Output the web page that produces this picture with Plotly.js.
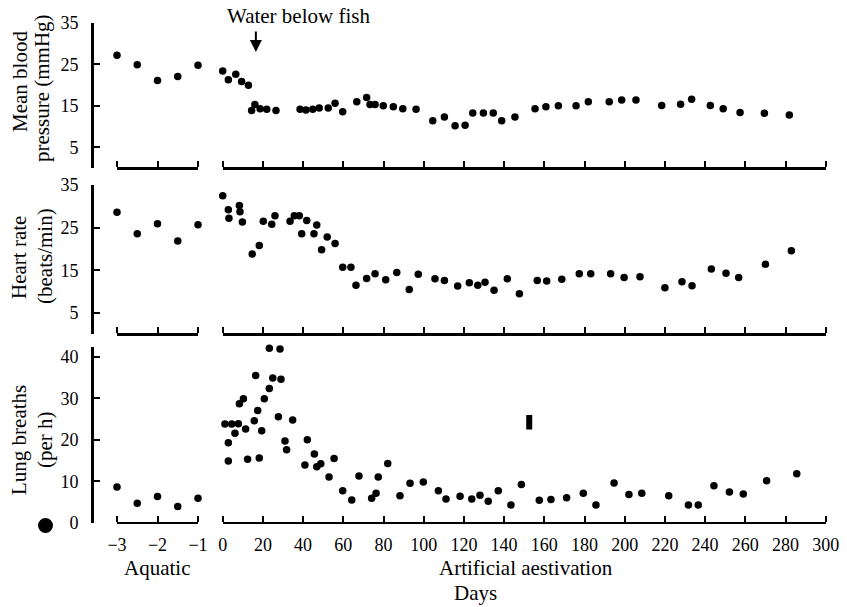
<!DOCTYPE html>
<html>
<head>
<meta charset="utf-8">
<script src="https://cdn.plot.ly/plotly-3.0.1.min.js"></script>
<style>html,body{margin:0;padding:0;background:#fff}</style>
</head>
<body>
<div id="chart" style="width:847px;height:607px"></div>
<script>
// Aquatic phase (days before aestivation)
const aqDays = [-3, -2.5, -2, -1.5, -1];
const bpAq = [27.2, 24.9, 21.1, 22.1, 24.8];
const hrAq = [28.6, 23.6, 25.9, 21.9, 25.7];
const lbAq = [8.6, 4.7, 6.3, 3.9, 5.9];

// Artificial aestivation: mean blood pressure (mmHg)
const bpDays = [0, 2.8, 6.5, 9.4, 12.8, 14.4, 16, 18.6, 21.9, 26.5, 38.5, 41.4, 44.8, 48, 52.5, 55.9, 59.7, 66.7, 71.6, 73.3, 75.8, 79.9, 84.9, 89.6, 96.2, 104.5, 110.3, 115.6, 120.6, 124.4, 129.7, 134.6, 138.8, 145.4, 155.4, 160.8, 167, 175.8, 181.9, 192.3, 198.5, 205.6, 218.4, 227.8, 233.3, 242.6, 249, 257.4, 269.5, 281.9];
const bpVals = [23.4, 21.3, 22.6, 20.9, 20, 13.9, 15.3, 14.3, 14.2, 13.9, 14.2, 14, 14.2, 14.5, 14.5, 15.6, 13.6, 16, 17, 15.3, 15.3, 15, 14.8, 14.3, 14.2, 11.4, 12.3, 10.2, 10.3, 13.3, 13.3, 13.3, 11.4, 12.3, 14.3, 14.8, 15, 15, 16, 16, 16.4, 16.4, 15.1, 15.4, 16.6, 15.1, 14.3, 13.4, 13.2, 12.8];

// Heart rate (beats/min)
const hrDays = [0, 2.8, 3.1, 8.3, 8.6, 9.8, 14.7, 18.2, 20.2, 24.4, 26, 33.5, 35.6, 38.1, 39.3, 41.8, 45.4, 46.8, 49.2, 52, 55.9, 59.7, 63.8, 66.3, 71.6, 75.8, 81.1, 86.6, 92.8, 97.3, 105.6, 110.3, 116.9, 122.7, 126.9, 130.5, 135, 141.6, 147.6, 156.5, 161.2, 168.7, 177.4, 183.1, 193, 199.7, 207.6, 220, 228.5, 233.5, 243.1, 250.4, 256.7, 270, 282.9];
const hrVals = [32.5, 29.2, 27.2, 30.2, 28.7, 26.3, 18.8, 20.8, 26.5, 25.8, 27.8, 26.5, 27.8, 27.8, 23.6, 26.7, 23.6, 25.6, 19.8, 22.8, 21.3, 15.7, 15.7, 11.5, 13.1, 14.2, 12.8, 14.5, 10.5, 14.1, 13, 12.6, 11.3, 12.1, 11.5, 12.2, 10.3, 13, 9.5, 12.6, 12.5, 12.9, 14.2, 14.2, 14.2, 13.3, 13.5, 10.9, 12.3, 11.4, 15.3, 14.3, 13.3, 16.4, 19.6];

// Lung breaths (per h)
const lbDays = [1.1, 2.8, 2.8, 4.5, 6.1, 7.8, 8.3, 10.3, 11.4, 12.4, 15.7, 16.4, 17.4, 18.2, 19.4, 20.7, 23.2, 23.2, 24.9, 27.7, 28.5, 29, 31, 31.8, 34.8, 40.9, 42.1, 45.6, 46.8, 48.8, 52.9, 55.4, 59.7, 64.2, 67.8, 74.1, 76.3, 77.4, 82.1, 88.2, 93.2, 99.8, 107.3, 111.1, 118.1, 123.9, 128, 132.1, 137.1, 143.4, 148.6, 157.5, 163.3, 171.1, 179.4, 185.7, 194.7, 202.1, 208.5, 221.9, 231.7, 236.6, 244.4, 252.1, 259, 270.6, 285.6];
const lbVals = [23.8, 19.3, 14.9, 23.8, 21.6, 23.9, 28.7, 29.9, 22.6, 15.3, 24.6, 35.5, 27.1, 15.6, 22.2, 29.9, 32.4, 42.1, 34.9, 25.6, 41.9, 34.6, 19.7, 17.6, 24.8, 13.9, 20, 16.6, 13.5, 14.2, 11, 15.5, 7.7, 5.5, 11.3, 5.9, 7.1, 11, 14.3, 6.5, 9.5, 9.8, 7.7, 5.7, 6.4, 5.7, 6.6, 5.2, 7.7, 4.3, 9.2, 5.4, 5.6, 6, 7.1, 4.3, 9.6, 6.8, 7.1, 6.5, 4.3, 4.3, 8.9, 7.4, 6.9, 10.1, 11.8];

const aqTicks = [-3, -2, -1];
const aeTicks = [0, 20, 40, 60, 80, 100, 120, 140, 160, 180, 200, 220, 240, 260, 280, 300];
const bpTicks = [0, 5, 15, 25, 35];
const bpTickText = ['', '5', '15', '25', '35'];
const hrTicks = [0, 5, 15, 25, 35];
const hrTickText = ['', '5', '15', '25', '35'];
const lbTicks = [0, 10, 20, 30, 40];

const W = 847, H = 607;
const px = v => v / W;
const py = v => 1 - v / H;
const FONT = 'Liberation Serif, Times New Roman, serif';

function pts(x, y, xa, ya) {
  return {x: x, y: y, xaxis: xa, yaxis: ya, type: 'scatter', mode: 'markers',
    marker: {color: '#000', size: 7.5}, cliponaxis: false, showlegend: false, hoverinfo: 'x+y'};
}
function blank(xa, ya) {
  return {x: [], y: [], xaxis: xa, yaxis: ya, type: 'scatter', mode: 'markers', showlegend: false, hoverinfo: 'skip'};
}

const data = [
  pts(aqDays, bpAq, 'x', 'y'), pts(bpDays, bpVals, 'x2', 'y'),
  pts(aqDays, hrAq, 'x3', 'y2'), pts(hrDays, hrVals, 'x4', 'y2'),
  pts(aqDays, lbAq, 'x5', 'y3'), pts(lbDays, lbVals, 'x6', 'y3'),
  blank('x7', 'y3'), blank('x8', 'y3')
];

const aqDom = [px(117), px(198)];
const aeDom = [px(222.7), px(825.7)];
const dom1 = [py(168), py(23)];
const dom2 = [py(334.3), py(185)];
const dom3 = [py(522.7), py(346.6)];

// bracket axes: line with upward ticks (drawn as 'outside' ticks of a top-side axis)
function xa(dom, range, ticks, pos) {
  return {domain: dom, range: range, anchor: 'free', position: pos, side: 'top',
    tickmode: 'array', tickvals: ticks, showticklabels: false,
    ticks: 'outside', ticklen: 6, tickwidth: 2, tickcolor: '#000',
    showline: true, linecolor: '#000', linewidth: 2.5, showgrid: false, zeroline: false,
    fixedrange: true};
}
// label-only axes under the bottom panel
function xl(over, range, ticks, pos) {
  return {overlaying: over, range: range, anchor: 'free', position: pos, side: 'bottom',
    tickmode: 'array', tickvals: ticks, showticklabels: true, ticks: '', ticklabelstandoff: 9,
    showline: false, showgrid: false, zeroline: false,
    tickfont: {family: FONT, size: 18, color: '#000'}, fixedrange: true};
}
function ya(dom, range, ticks, text) {
  return {domain: dom, range: range, anchor: 'free', position: px(92), tickmode: 'array',
    tickvals: ticks, ticktext: text, ticks: 'inside', ticklen: 6, tickwidth: 2, tickcolor: '#000',
    ticklabelstandoff: 9,
    showline: true, linecolor: '#000', linewidth: 2.5, showgrid: false, zeroline: false,
    tickfont: {family: FONT, size: 18, color: '#000'}, fixedrange: true};
}

function lab(text, x, y, size, angle) {
  return {text: text, xref: 'paper', yref: 'paper', x: px(x), y: py(y), showarrow: false,
    xanchor: 'center', yanchor: 'middle', textangle: angle || 0,
    font: {family: FONT, size: size, color: '#000'}};
}

const layout = {
  width: W, height: H, margin: {l: 0, r: 0, t: 0, b: 0},
  paper_bgcolor: '#fff', plot_bgcolor: 'rgba(0,0,0,0)', showlegend: false,
  xaxis: xa(aqDom, [-3, -1], aqTicks, dom1[0]),
  xaxis2: xa(aeDom, [0, 300], aeTicks, dom1[0]),
  xaxis3: xa(aqDom, [-3, -1], aqTicks, dom2[0]),
  xaxis4: xa(aeDom, [0, 300], aeTicks, dom2[0]),
  xaxis5: xa(aqDom, [-3, -1], aqTicks, dom3[0]),
  xaxis6: xa(aeDom, [0, 300], aeTicks, dom3[0]),
  xaxis7: xl('x5', [-3, -1], aqTicks, dom3[0]),
  xaxis8: xl('x6', [0, 300], aeTicks, dom3[0]),
  yaxis: ya(dom1, [0, 35], bpTicks, bpTickText),
  yaxis2: ya(dom2, [0, 35], hrTicks, hrTickText),
  yaxis3: ya(dom3, [0, 42.5], lbTicks, lbTicks.map(String)),
  annotations: [
    lab('Mean blood', 20, 82, 21, -90),
    lab('pressure (mmHg)', 42, 88, 21, -90),
    lab('Heart rate', 19, 258, 21, -90),
    lab('(beats/min)', 45, 256, 21, -90),
    lab('Lung breaths', 19, 440, 21, -90),
    lab('(per h)', 45, 440, 21, -90),
    lab('Aquatic', 157, 568, 21, 0),
    lab('Artificial aestivation', 526, 568, 21, 0),
    lab('Days', 475, 593, 21, 0),
    lab('Water below fish', 298, 16, 21, 0),
    {text: '', xref: 'x2', yref: 'y', x: 16.5, y: 28, ax: 0, ay: -22, showarrow: true,
     arrowhead: 2, arrowsize: 1.2, arrowwidth: 2, arrowcolor: '#000'},
    {text: '', xref: 'x6', yref: 'y3', x: 152.5, y: 22.5, ax: 0, ay: -16, showarrow: true,
     arrowhead: 0, arrowwidth: 6, arrowcolor: '#000'}
  ],
  shapes: [
    {type: 'circle', xref: 'paper', yref: 'paper', x0: px(38), x1: px(53), y0: py(533), y1: py(518),
     fillcolor: '#000', line: {color: '#000', width: 0}}
  ]
};

Plotly.newPlot('chart', data, layout, {displayModeBar: false, staticPlot: true});
</script>
</body>
</html>
